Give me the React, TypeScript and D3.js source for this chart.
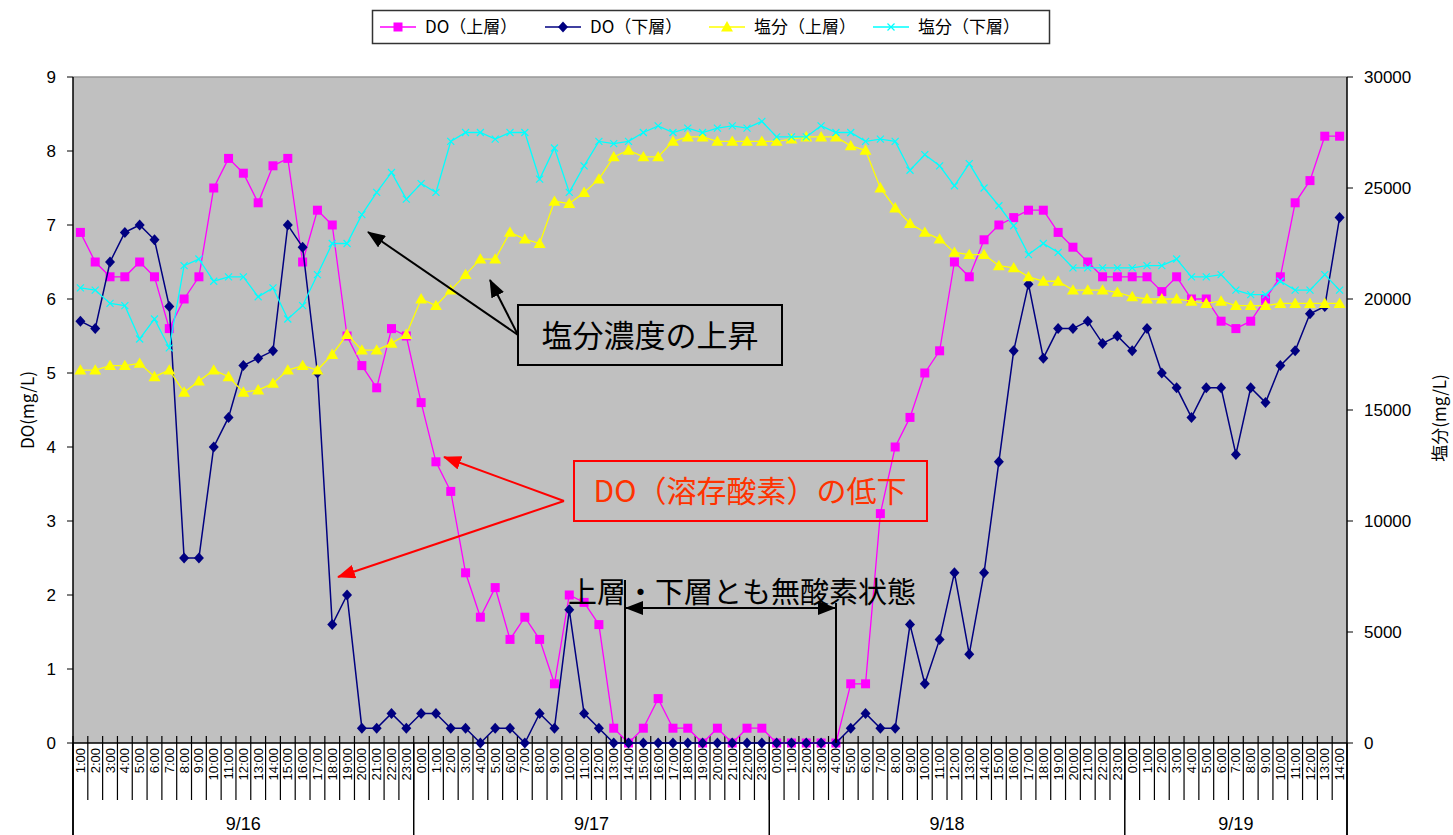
import React from "react";
import * as d3 from "d3";

// hourly timestamps, 9/16 1:00 through 9/19 14:00
const hourLabels = [
  "1:00", "2:00", "3:00", "4:00", "5:00", "6:00", "7:00", "8:00", "9:00", "10:00", "11:00", "12:00",
  "13:00", "14:00", "15:00", "16:00", "17:00", "18:00", "19:00", "20:00", "21:00", "22:00", "23:00",
  "0:00", "1:00", "2:00", "3:00", "4:00", "5:00", "6:00", "7:00", "8:00", "9:00", "10:00", "11:00", "12:00",
  "13:00", "14:00", "15:00", "16:00", "17:00", "18:00", "19:00", "20:00", "21:00", "22:00", "23:00",
  "0:00", "1:00", "2:00", "3:00", "4:00", "5:00", "6:00", "7:00", "8:00", "9:00", "10:00", "11:00", "12:00",
  "13:00", "14:00", "15:00", "16:00", "17:00", "18:00", "19:00", "20:00", "21:00", "22:00", "23:00",
  "0:00", "1:00", "2:00", "3:00", "4:00", "5:00", "6:00", "7:00", "8:00", "9:00", "10:00", "11:00", "12:00",
  "13:00", "14:00",
];
const dayLabels = ["9/16", "9/17", "9/18", "9/19"];

const doUpper = [
  6.9, 6.5, 6.3, 6.3, 6.5, 6.3, 5.6, 6.0, 6.3, 7.5, 7.9, 7.7, 7.3, 7.8, 7.9, 6.5, 7.2, 7.0, 5.5, 5.1, 4.8, 5.6, 5.5,
  4.6, 3.8, 3.4, 2.3, 1.7, 2.1, 1.4, 1.7, 1.4, 0.8, 2.0, 1.9, 1.6, 0.2, 0, 0.2, 0.6, 0.2, 0.2, 0, 0.2, 0, 0.2, 0.2,
  0, 0, 0, 0, 0, 0.8, 0.8, 3.1, 4.0, 4.4, 5.0, 5.3, 6.5, 6.3, 6.8, 7.0, 7.1, 7.2, 7.2, 6.9, 6.7, 6.5, 6.3, 6.3,
  6.3, 6.3, 6.1, 6.3, 6.0, 6.0, 5.7, 5.6, 5.7, 6.0, 6.3, 7.3, 7.6, 8.2, 8.2,
];
const doLower = [
  5.7, 5.6, 6.5, 6.9, 7.0, 6.8, 5.9, 2.5, 2.5, 4.0, 4.4, 5.1, 5.2, 5.3, 7.0, 6.7, 5.0, 1.6, 2.0, 0.2, 0.2, 0.4, 0.2,
  0.4, 0.4, 0.2, 0.2, 0, 0.2, 0.2, 0, 0.4, 0.2, 1.8, 0.4, 0.2, 0, 0, 0, 0, 0, 0, 0, 0, 0, 0, 0,
  0, 0, 0, 0, 0, 0.2, 0.4, 0.2, 0.2, 1.6, 0.8, 1.4, 2.3, 1.2, 2.3, 3.8, 5.3, 6.2, 5.2, 5.6, 5.6, 5.7, 5.4, 5.5,
  5.3, 5.6, 5.0, 4.8, 4.4, 4.8, 4.8, 3.9, 4.8, 4.6, 5.1, 5.3, 5.8, 5.9, 7.1,
];
const saltUpper = [
  16800, 16800, 17000, 17000, 17100, 16500, 16800, 15800, 16300, 16800, 16500, 15800, 15900, 16200, 16800, 17000,
  16800, 17500, 18400, 17700, 17700, 18000, 18400,
  20000, 19700, 20400, 21100, 21800, 21800, 23000, 22700, 22500, 24400, 24300, 24800, 25400, 26400, 26700, 26400,
  26400, 27100, 27300, 27300, 27100, 27100, 27100, 27100,
  27100, 27200, 27300, 27300, 27300, 26900, 26700, 25000, 24100, 23400, 23000, 22700, 22100, 22000, 22000, 21500,
  21400, 21000, 20800, 20800, 20400, 20400, 20400, 20300,
  20100, 20000, 20000, 20000, 19900, 19800, 19900, 19700, 19700, 19700, 19800, 19800, 19800, 19800, 19800,
];
const saltLower = [
  20500, 20400, 19800, 19700, 18200, 19100, 17800, 21500, 21800, 20800, 21000, 21000, 20100, 20500, 19100, 19700,
  21100, 22500, 22500, 23800, 24800, 25700, 24500,
  25200, 24800, 27100, 27500, 27500, 27200, 27500, 27500, 25400, 26800, 24800, 26000, 27100, 27000, 27100, 27500,
  27800, 27500, 27700, 27500, 27700, 27800, 27700, 28000,
  27300, 27300, 27300, 27800, 27500, 27500, 27100, 27200, 27100, 25800, 26500, 26000, 25100, 26100, 25000, 24200,
  23300, 22000, 22500, 22100, 21400, 21400, 21400, 21400,
  21400, 21500, 21500, 21800, 21000, 21000, 21100, 20400, 20200, 20200, 20800, 20400, 20400, 21100, 20400,
];

const doTicks = [0, 1, 2, 3, 4, 5, 6, 7, 8, 9];
const saltTicks = [0, 5000, 10000, 15000, 20000, 25000, 30000];

const W = 1453;
const H = 835;
const left = 73;
const right = 1347;
const top = 77;
const bottom = 743;

const font = "'Noto Sans CJK JP', 'Noto Sans', sans-serif";
const numFont = "'Liberation Sans', Arial, sans-serif";

const x = d3.scaleBand<number>().domain(d3.range(hourLabels.length)).range([left, right]);
const cx = (i: number) => (x(i) as number) + x.bandwidth() / 2;
const yL = d3.scaleLinear().domain([0, 9]).range([bottom, top]);
const yR = d3.scaleLinear().domain([0, 30000]).range([bottom, top]);

const lineL = d3.line<number>().x((_, i) => cx(i)).y((d) => yL(d));
const lineR = d3.line<number>().x((_, i) => cx(i)).y((d) => yR(d));
const triangle = d3.symbol().type(d3.symbolTriangle).size(62)() as string;

const Square = ({ x, y }: { x: number; y: number }) => (
  <rect x={x - 4.5} y={y - 4.5} width={9} height={9} fill="#FF00FF" />
);
const Diamond = ({ x, y }: { x: number; y: number }) => (
  <path d={`M${x},${y - 5.5}L${x + 5},${y}L${x},${y + 5.5}L${x - 5},${y}Z`} fill="#000080" />
);
const Tri = ({ x, y }: { x: number; y: number }) => (
  <path d={triangle} transform={`translate(${x},${y + 1})`} fill="#FFFF00" />
);
const Cross = ({ x, y }: { x: number; y: number }) => (
  <path d={`M${x - 3.5},${y - 3.5}L${x + 3.5},${y + 3.5}M${x - 3.5},${y + 3.5}L${x + 3.5},${y - 3.5}`} stroke="#00FFFF" strokeWidth={1.2} />
);

const legendItems = [
  { label: "DO（上層）", color: "#FF00FF", Mark: Square, x0: 380 },
  { label: "DO（下層）", color: "#000080", Mark: Diamond, x0: 545 },
  { label: "塩分（上層）", color: "#FFFF00", Mark: Tri, x0: 709 },
  { label: "塩分（下層）", color: "#00FFFF", Mark: Cross, x0: 873 },
];

export default function App() {
  // day boundaries come from the "0:00" labels
  const dayStarts = [0, ...hourLabels.map((h, i) => (h === "0:00" ? i : -1)).filter((i) => i > 0)];
  const dayEdges = [...dayStarts.map((i) => x(i) as number), right];

  return (
    <svg width={W} height={H} style={{ position: "absolute", left: 0, top: 0, background: "#fff" }}>
      <defs>
        <marker id="ahBlack" markerUnits="userSpaceOnUse" markerWidth={18} markerHeight={14} refX={17} refY={7} orient="auto-start-reverse">
          <path d="M0,0L18,7L0,14Z" fill="#000" />
        </marker>
        <marker id="ahRed" markerUnits="userSpaceOnUse" markerWidth={18} markerHeight={14} refX={17} refY={7} orient="auto">
          <path d="M0,0L18,7L0,14Z" fill="#FF0000" />
        </marker>
      </defs>

      {/* legend */}
      <rect x={372.5} y={10.5} width={677} height={33} fill="#fff" stroke="#333" strokeWidth={1.5} />
      {legendItems.map(({ label, color, Mark, x0 }) => (
        <g key={label}>
          <line x1={x0} x2={x0 + 36} y1={27} y2={27} stroke={color} strokeWidth={1.3} />
          <Mark x={x0 + 18} y={27} />
          <text x={x0 + 45} y={27} dy="0.35em" fontSize={17} fontFamily={font}>{label}</text>
        </g>
      ))}

      {/* plot area */}
      <rect x={left} y={top} width={right - left} height={bottom - top} fill="#C0C0C0" />
      <line x1={left} x2={right} y1={top} y2={top} stroke="#999" strokeWidth={1.5} />
      <line x1={left} x2={left} y1={top} y2={H} stroke="#000" strokeWidth={1.5} />
      <line x1={right} x2={right} y1={top} y2={H} stroke="#000" strokeWidth={1.5} />
      <line x1={left} x2={right} y1={bottom} y2={bottom} stroke="#000" strokeWidth={1.5} />

      {/* left axis */}
      {doTicks.map((t) => (
        <g key={"l" + t}>
          <line x1={left - 6} x2={left} y1={yL(t)} y2={yL(t)} stroke="#000" />
          <text x={56} y={yL(t)} dy="0.35em" textAnchor="end" fontSize={17} fontFamily={numFont}>{t}</text>
        </g>
      ))}
      <text transform={`translate(28,${(top + bottom) / 2}) rotate(-90)`} textAnchor="middle" dy="0.35em" fontSize={17} fontFamily={font}>DO(mg/L)</text>

      {/* right axis */}
      {saltTicks.map((t) => (
        <g key={"r" + t}>
          <line x1={right} x2={right + 6} y1={yR(t)} y2={yR(t)} stroke="#000" />
          <text x={1364} y={yR(t)} dy="0.35em" fontSize={17} fontFamily={numFont}>{t}</text>
        </g>
      ))}
      <text transform={`translate(1440,${(top + bottom) / 2 + 8}) rotate(-90)`} textAnchor="middle" dy="0.35em" fontSize={17} fontFamily={font}>塩分(mg/L)</text>

      {/* category axis */}
      {hourLabels.map((h, i) => (
        <g key={"h" + i}>
          <line x1={x(i) as number} x2={x(i) as number} y1={bottom - 7} y2={800} stroke="#000" strokeWidth={1.2} />
          <text transform={`translate(${cx(i)},748) rotate(-90)`} textAnchor="end" dy="0.35em" fontSize={13} fontFamily={numFont}>{h}</text>
        </g>
      ))}
      {dayEdges.map((e, i) => (
        <line key={"d" + i} x1={e} x2={e} y1={bottom} y2={H} stroke="#000" strokeWidth={1.5} />
      ))}
      {dayLabels.map((d, i) => (
        <text key={d} x={(dayEdges[i] + dayEdges[i + 1]) / 2} y={824} dy="0.35em" textAnchor="middle" fontSize={18} fontFamily={numFont}>{d}</text>
      ))}

      {/* series */}
      <path d={lineL(doUpper) as string} fill="none" stroke="#FF00FF" strokeWidth={1.3} />
      {doUpper.map((v, i) => <Square key={"a" + i} x={cx(i)} y={yL(v)} />)}
      <path d={lineL(doLower) as string} fill="none" stroke="#000080" strokeWidth={1.5} />
      {doLower.map((v, i) => <Diamond key={"b" + i} x={cx(i)} y={yL(v)} />)}
      <path d={lineR(saltUpper) as string} fill="none" stroke="#FFFF00" strokeWidth={1.3} />
      {saltUpper.map((v, i) => <Tri key={"c" + i} x={cx(i)} y={yR(v)} />)}
      <path d={lineR(saltLower) as string} fill="none" stroke="#00FFFF" strokeWidth={1.3} />
      {saltLower.map((v, i) => <Cross key={"e" + i} x={cx(i)} y={yR(v)} />)}

      {/* annotation: salinity rise */}
      <line x1={518} y1={335} x2={368} y2={232} stroke="#000" strokeWidth={2} markerEnd="url(#ahBlack)" />
      <line x1={518} y1={335} x2={490} y2={280} stroke="#000" strokeWidth={2} markerEnd="url(#ahBlack)" />
      <rect x={518} y={305} width={264} height={60} fill="none" stroke="#000" strokeWidth={2} />
      <text x={650} y={336} dy="0.35em" textAnchor="middle" fontSize={31} fontFamily={font}>塩分濃度の上昇</text>

      {/* annotation: DO drop */}
      <line x1={564} y1={501} x2={444} y2={457} stroke="#FF0000" strokeWidth={2} markerEnd="url(#ahRed)" />
      <line x1={564} y1={501} x2={338} y2={577} stroke="#FF0000" strokeWidth={2} markerEnd="url(#ahRed)" />
      <rect x={574} y={461} width={353} height={60} fill="none" stroke="#FF0000" strokeWidth={2} />
      <text x={750} y={491} dy="0.35em" textAnchor="middle" fontSize={30} fontFamily={font} fill="#FF3300">DO（溶存酸素）の低下</text>

      {/* annotation: anoxic period */}
      <text x={568} y={593} dy="0.35em" fontSize={29} fontFamily={font}>上層・下層とも無酸素状態</text>
      <line x1={625} y1={580} x2={625} y2={bottom} stroke="#000" strokeWidth={2} />
      <line x1={836} y1={603} x2={836} y2={bottom} stroke="#000" strokeWidth={2} />
      <line x1={626} y1={608} x2={835} y2={608} stroke="#000" strokeWidth={2} markerStart="url(#ahBlack)" markerEnd="url(#ahBlack)" />
    </svg>
  );
}
